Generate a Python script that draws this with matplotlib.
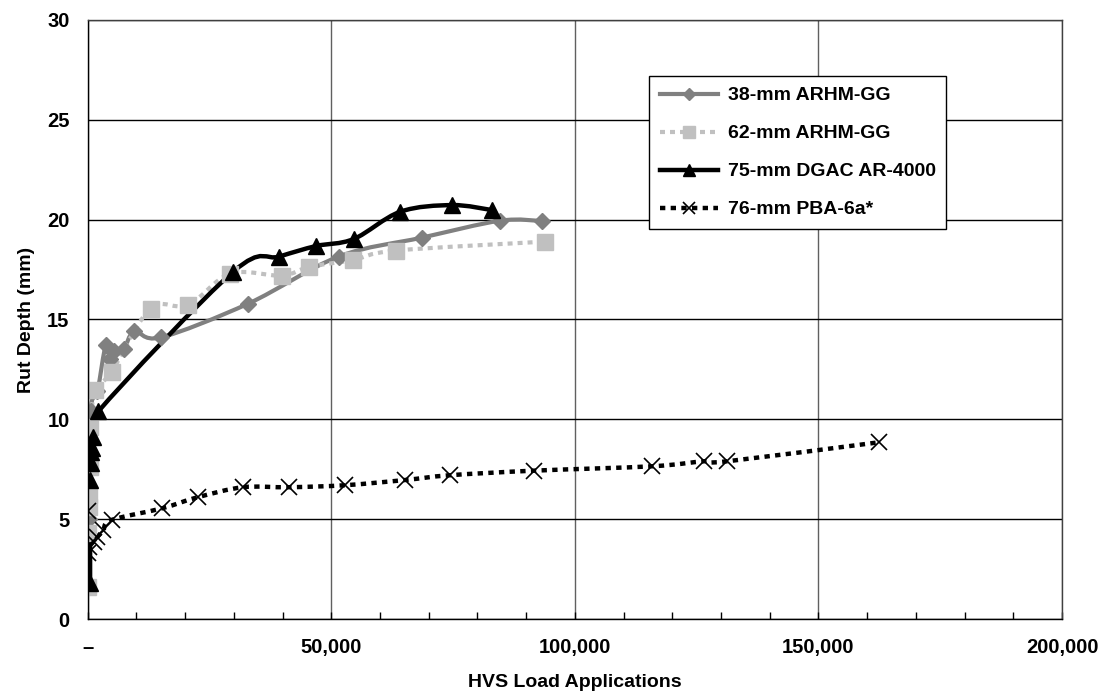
import matplotlib.pyplot as plt
from matplotlib.path import Path
from matplotlib.patches import PathPatch
from matplotlib.lines import Line2D
from matplotlib.ticker import FuncFormatter, MultipleLocator

plt.rcParams['font.family'] = ['Liberation Sans', 'DejaVu Sans']
plt.rcParams['font.weight'] = 'bold'
plt.rcParams['font.size'] = 14

labels = ['38-mm ARHM-GG', '62-mm ARHM-GG', '75-mm DGAC AR-4000', '76-mm PBA-6a*']

# 38-mm ARHM-GG
x38 = [200, 600, 2000, 3700, 4600, 5500, 7400, 9600, 15000, 33000, 51500, 68600, 84700, 93300]
y38 = [5.0, 10.4, 11.4, 13.7, 13.0, 13.4, 13.5, 14.4, 14.1, 15.8, 18.15, 19.1, 19.95, 19.93]

# 62-mm ARHM-GG
x62 = [0, 100, 200, 300, 400, 500, 1600, 4900, 12900, 20600, 29300, 39900, 45500, 54500, 63200, 93800]
y62 = [1.6, 4.3, 5.6, 6.2, 7.6, 9.6, 11.45, 12.38, 15.55, 15.72, 17.3, 17.2, 17.64, 17.98, 18.45, 18.9]

# 75-mm DGAC AR-4000
x75 = [500, 500, 600, 700, 800, 1000, 2200, 29900, 39300, 46900, 54600, 64200, 74800, 83000]
y75 = [1.8, 6.96, 7.8, 8.38, 8.55, 9.13, 10.4, 17.4, 18.15, 18.68, 19.03, 20.4, 20.73, 20.48]

# 76-mm PBA-6a*
x76 = [0, 100, 300, 1200, 2000, 3200, 4900, 15200, 22600, 31900, 41400, 52800, 65100, 74300,
       91600, 115900, 126500, 131300, 162400]
y76 = [5.4, 3.3, 3.62, 3.87, 4.12, 4.45, 4.96, 5.54, 6.1, 6.6, 6.6, 6.7, 6.96, 7.2,
       7.43, 7.65, 7.9, 7.9, 8.85]

series = [
    (x38, y38, dict(color='#808080', ls='-', lw=3.0, marker='D', ms=8, mfc='#808080', mec='#808080', mew=1)),
    (x62, y62, dict(color='#c0c0c0', ls=(0, (1.2, 1.2)), lw=3.0, marker='s', ms=11, mfc='#c0c0c0', mec='#c0c0c0', mew=1)),
    (x75, y75, dict(color='black', ls='-', lw=3.2, marker='^', ms=11, mfc='black', mec='black', mew=1)),
    (x76, y76, dict(color='black', ls=(0, (1.2, 1.2)), lw=3.2, marker='x', ms=12, mfc='black', mec='black', mew=1.2)),
]


def smooth_path(xs, ys, k=1 / 6):
    # cubic Bezier through the points, like a spreadsheet "smoothed line"
    pts = list(zip(xs, ys))
    verts = [pts[0]]
    codes = [Path.MOVETO]
    n = len(pts)
    for i in range(n - 1):
        p0 = pts[i - 1] if i > 0 else pts[i]
        p1 = pts[i]
        p2 = pts[i + 1]
        p3 = pts[i + 2] if i + 2 < n else pts[i + 1]
        c1 = (p1[0] + (p2[0] - p0[0]) * k, p1[1] + (p2[1] - p0[1]) * k)
        c2 = (p2[0] - (p3[0] - p1[0]) * k, p2[1] - (p3[1] - p1[1]) * k)
        verts += [c1, c2, p2]
        codes += [Path.CURVE4] * 3
    return Path(verts, codes)


fig = plt.figure(figsize=(11, 6.96), dpi=100)
ax = fig.add_axes([0.0797, 0.1106, 0.8858, 0.8607])

handles = []
for xs, ys, st in series:
    patch = PathPatch(smooth_path(xs, ys), fill=False, edgecolor=st['color'],
                      linewidth=st['lw'], linestyle=st['ls'], capstyle='butt', joinstyle='round')
    ax.add_patch(patch)
    ax.plot(xs, ys, linestyle='none', marker=st['marker'], ms=st['ms'],
            mfc=st['mfc'], mec=st['mec'], mew=st['mew'])
    handles.append(Line2D([], [], color=st['color'], lw=st['lw'], ls=st['ls'],
                          marker=st['marker'], ms=st['ms'] * 0.75, mfc=st['mfc'],
                          mec=st['mec'], mew=st['mew'], dash_capstyle='butt'))

ax.set_xlim(0, 200000)
ax.set_ylim(0, 30)
ax.xaxis.set_major_locator(MultipleLocator(50000))
ax.xaxis.set_minor_locator(MultipleLocator(10000))
ax.yaxis.set_major_locator(MultipleLocator(5))
ax.xaxis.set_major_formatter(FuncFormatter(lambda v, p: '–' if v == 0 else f'{int(v):,}'))
ax.tick_params(axis='x', which='both', direction='in', length=5, width=1, pad=14, labelsize=14.5)
ax.tick_params(axis='y', length=0, pad=13, labelsize=14.5)
ax.grid(True, which='major', axis='y', color='black', lw=1)
ax.grid(True, which='major', axis='x', color='#606060', lw=1)
ax.set_axisbelow(True)
for s in ax.spines.values():
    s.set_color('#404040')
    s.set_linewidth(1)
ax.spines['left'].set_color('black')
ax.spines['bottom'].set_color('black')

ax.set_xlabel('HVS Load Applications', fontsize=14, fontweight='bold', labelpad=12)
ax.set_ylabel('Rut Depth (mm)', fontsize=14, fontweight='bold', labelpad=9)

leg = ax.legend(handles, labels, loc='upper left', bbox_to_anchor=(649 / 1100, 1 - 76 / 696),
                bbox_transform=fig.transFigure, borderaxespad=0, frameon=True, fancybox=False,
                handlelength=3.0, handletextpad=0.5, labelspacing=1.05, borderpad=0.55,
                prop={'size': 14, 'weight': 'bold'})
leg.get_frame().set_edgecolor('black')
leg.get_frame().set_linewidth(1)
leg.get_frame().set_alpha(1)

fig.savefig('out.png', dpi=100)
